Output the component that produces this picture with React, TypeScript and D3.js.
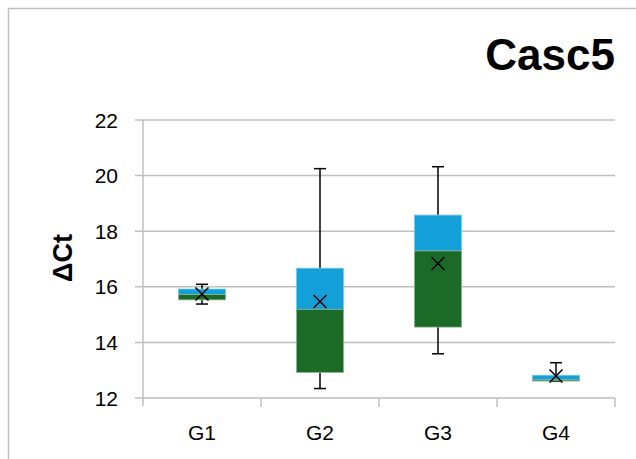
import React from "react";
import * as d3 from "d3";

const groups = ["G1", "G2", "G3", "G4"];
const minVals = [15.38, 12.34, 13.59, 12.6];
const q1Vals = [15.53, 12.92, 14.55, 12.61];
const medianVals = [15.72, 15.19, 17.29, 12.65];
const q3Vals = [15.92, 16.67, 18.58, 12.82];
const maxVals = [16.09, 20.25, 20.32, 13.27];
const meanVals = [15.74, 15.47, 16.84, 12.79];
const yTicks = [12, 14, 16, 18, 20, 22];

const W = 636;
const H = 459;
const margin = { top: 120, right: 21, bottom: 61, left: 143 };
const FONT = "'Liberation Sans', Arial, sans-serif";
const gridColor = "#bfbfbf";
const blue = "#139fd7";
const green = "#1b6a27";

const App = () => {
  const x = d3
    .scaleBand()
    .domain(groups)
    .range([margin.left, W - margin.right])
    .paddingInner(0)
    .paddingOuter(0);

  const y = d3
    .scaleLinear()
    .domain([12, 22])
    .range([H - margin.bottom, margin.top]);

  const step = x.step();
  const boxW = step * 0.4;
  const x0 = margin.left;
  const x1 = W - margin.right;
  const yBase = y(12);

  return (
    <svg
      width={W}
      height={H}
      style={{ position: "absolute", left: 0, top: 0, background: "#fff" }}
      fontFamily={FONT}
    >
      {/* outer chart border */}
      <rect x={8.5} y={8.5} width={W + 20} height={H + 20} fill="none" stroke={gridColor} strokeWidth={1.5} />

      <text x={615} y={70} textAnchor="end" fontSize={44} fontWeight="bold" fill="#000">
        Casc5
      </text>

      {/* gridlines */}
      {yTicks.map((t) => (
        <line key={"g" + t} x1={x0 - 8} x2={x1} y1={y(t)} y2={y(t)} stroke={gridColor} strokeWidth={1.5} />
      ))}
      {yTicks.map((t) => (
        <text key={"l" + t} x={118} y={y(t)} dy="0.36em" textAnchor="end" fontSize={21} fill="#000">
          {t}
        </text>
      ))}
      <line x1={x0} x2={x0} y1={y(22)} y2={yBase + 8} stroke={gridColor} strokeWidth={1.5} />

      {/* x axis category ticks */}
      {groups.map((g) => (
        <line
          key={"t" + g}
          x1={(x(g) as number) + step}
          x2={(x(g) as number) + step}
          y1={yBase}
          y2={yBase + 9}
          stroke={gridColor}
          strokeWidth={1.5}
        />
      ))}
      {groups.map((g) => (
        <text key={"c" + g} x={(x(g) as number) + step / 2} y={440} textAnchor="middle" fontSize={21} fill="#000">
          {g}
        </text>
      ))}

      <text
        transform={`translate(72,258) rotate(-90)`}
        textAnchor="middle"
        fontSize={27}
        fontWeight="bold"
        fill="#000"
      >
        ΔCt
      </text>

      {groups.map((g, i) => {
        const cx = (x(g) as number) + step / 2;
        const left = cx - boxW / 2;
        const mx = 6.5;
        const my = y(meanVals[i]);
        return (
          <g key={"b" + g}>
            <line x1={cx} x2={cx} y1={y(maxVals[i])} y2={y(q3Vals[i])} stroke="#000" strokeWidth={1.5} />
            <line x1={cx} x2={cx} y1={y(q1Vals[i])} y2={y(minVals[i])} stroke="#000" strokeWidth={1.5} />
            <line x1={cx - 6} x2={cx + 6} y1={y(maxVals[i])} y2={y(maxVals[i])} stroke="#000" strokeWidth={1.5} />
            <line x1={cx - 6} x2={cx + 6} y1={y(minVals[i])} y2={y(minVals[i])} stroke="#000" strokeWidth={1.5} />
            <rect
              x={left}
              y={y(q3Vals[i])}
              width={boxW}
              height={y(medianVals[i]) - y(q3Vals[i])}
              fill={blue}
              stroke="#7fcbe9"
              strokeWidth={0.75}
            />
            <rect
              x={left}
              y={y(medianVals[i])}
              width={boxW}
              height={y(q1Vals[i]) - y(medianVals[i])}
              fill={green}
              stroke="#8db593"
              strokeWidth={0.75}
            />
            <path
              d={`M${cx - mx},${my - mx}L${cx + mx},${my + mx}M${cx - mx},${my + mx}L${cx + mx},${my - mx}`}
              stroke="#000"
              strokeWidth={1.5}
              fill="none"
            />
          </g>
        );
      })}
    </svg>
  );
};

export default App;
